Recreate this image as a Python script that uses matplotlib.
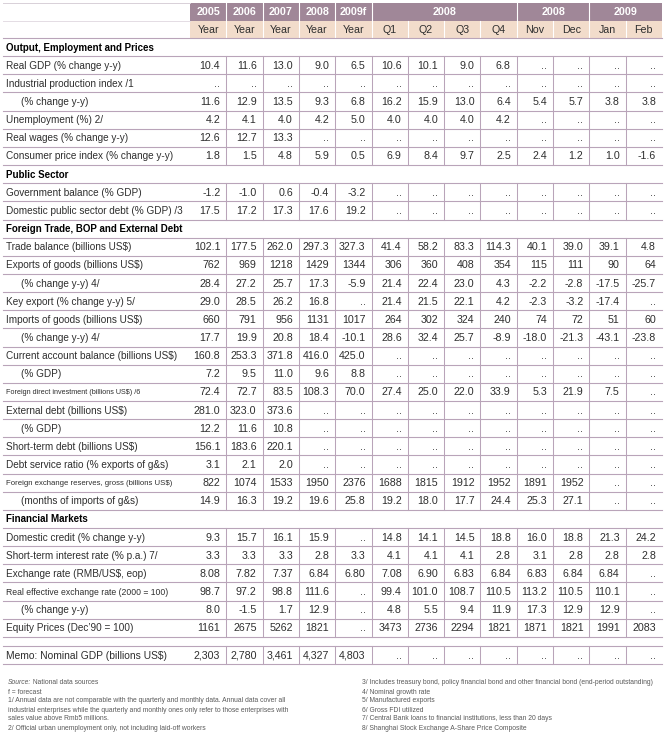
import matplotlib
matplotlib.use('Agg')
import matplotlib.pyplot as plt
from matplotlib.patches import Rectangle
from matplotlib import font_manager

NA = '..'

# column headers
col_years = ['2005', '2006', '2007', '2008', '2009f']
col_sub = ['Year', 'Year', 'Year', 'Year', 'Year', 'Q1', 'Q2', 'Q3', 'Q4', 'Nov', 'Dec', 'Jan', 'Feb']
group_heads = [('2008', 5, 9), ('2008', 9, 11), ('2009', 11, 13)]

output_rows = [
    ('Real GDP (% change y-y)', ['10.4', '11.6', '13.0', '9.0', '6.5', '10.6', '10.1', '9.0', '6.8', NA, NA, NA, NA]),
    ('Industrial production index /1', [NA] * 13),
    ('(% change y-y)', ['11.6', '12.9', '13.5', '9.3', '6.8', '16.2', '15.9', '13.0', '6.4', '5.4', '5.7', '3.8', '3.8']),
    ('Unemployment (%) 2/', ['4.2', '4.1', '4.0', '4.2', '5.0', '4.0', '4.0', '4.0', '4.2', NA, NA, NA, NA]),
    ('Real wages (% change y-y)', ['12.6', '12.7', '13.3', NA, NA, NA, NA, NA, NA, NA, NA, NA, NA]),
    ('Consumer price index (% change y-y)', ['1.8', '1.5', '4.8', '5.9', '0.5', '6.9', '8.4', '9.7', '2.5', '2.4', '1.2', '1.0', '-1.6']),
]
public_rows = [
    ('Government balance (% GDP)', ['-1.2', '-1.0', '0.6', '-0.4', '-3.2'] + [NA] * 8),
    ('Domestic public sector debt (% GDP) /3', ['17.5', '17.2', '17.3', '17.6', '19.2'] + [NA] * 8),
]
trade_rows = [
    ('Trade balance (billions US$)', ['102.1', '177.5', '262.0', '297.3', '327.3', '41.4', '58.2', '83.3', '114.3', '40.1', '39.0', '39.1', '4.8']),
    ('Exports of goods (billions US$)', ['762', '969', '1218', '1429', '1344', '306', '360', '408', '354', '115', '111', '90', '64']),
    ('(% change y-y) 4/', ['28.4', '27.2', '25.7', '17.3', '-5.9', '21.4', '22.4', '23.0', '4.3', '-2.2', '-2.8', '-17.5', '-25.7']),
    ('Key export (% change y-y) 5/', ['29.0', '28.5', '26.2', '16.8', NA, '21.4', '21.5', '22.1', '4.2', '-2.3', '-3.2', '-17.4', NA]),
    ('Imports of goods (billions US$)', ['660', '791', '956', '1131', '1017', '264', '302', '324', '240', '74', '72', '51', '60']),
    ('(% change y-y) 4/', ['17.7', '19.9', '20.8', '18.4', '-10.1', '28.6', '32.4', '25.7', '-8.9', '-18.0', '-21.3', '-43.1', '-23.8']),
    ('Current account balance (billions US$)', ['160.8', '253.3', '371.8', '416.0', '425.0'] + [NA] * 8),
    ('(% GDP)', ['7.2', '9.5', '11.0', '9.6', '8.8'] + [NA] * 8),
    ('Foreign direct investment (billions US$) /6', ['72.4', '72.7', '83.5', '108.3', '70.0', '27.4', '25.0', '22.0', '33.9', '5.3', '21.9', '7.5', NA]),
    ('External debt (billions US$)', ['281.0', '323.0', '373.6'] + [NA] * 10),
    ('(% GDP)', ['12.2', '11.6', '10.8'] + [NA] * 10),
    ('Short-term debt (billions US$)', ['156.1', '183.6', '220.1'] + [NA] * 10),
    ('Debt service ratio (% exports of g&s)', ['3.1', '2.1', '2.0'] + [NA] * 10),
    ('Foreign exchange reserves, gross (billions US$)', ['822', '1074', '1533', '1950', '2376', '1688', '1815', '1912', '1952', '1891', '1952', NA, NA]),
    ('(months of imports of g&s)', ['14.9', '16.3', '19.2', '19.6', '25.8', '19.2', '18.0', '17.7', '24.4', '25.3', '27.1', NA, NA]),
]
financial_rows = [
    ('Domestic credit (% change y-y)', ['9.3', '15.7', '16.1', '15.9', NA, '14.8', '14.1', '14.5', '18.8', '16.0', '18.8', '21.3', '24.2']),
    ('Short-term interest rate (% p.a.) 7/', ['3.3', '3.3', '3.3', '2.8', '3.3', '4.1', '4.1', '4.1', '2.8', '3.1', '2.8', '2.8', '2.8']),
    ('Exchange rate (RMB/US$, eop)', ['8.08', '7.82', '7.37', '6.84', '6.80', '7.08', '6.90', '6.83', '6.84', '6.83', '6.84', '6.84', NA]),
    ('Real effective exchange rate (2000 = 100)', ['98.7', '97.2', '98.8', '111.6', NA, '99.4', '101.0', '108.7', '110.5', '113.2', '110.5', '110.1', NA]),
    ('(% change y-y)', ['8.0', '-1.5', '1.7', '12.9', NA, '4.8', '5.5', '9.4', '11.9', '17.3', '12.9', '12.9', NA]),
    ('Equity Prices (Dec\u201990 = 100)', ['1161', '2675', '5262', '1821', NA, '3473', '2736', '2294', '1821', '1871', '1821', '1991', '2083']),
]
memo_row = ('Memo: Nominal GDP (billions US$)', ['2,303', '2,780', '3,461', '4,327', '4,803'] + [NA] * 8)

sections = [
    ('Output, Employment and Prices', output_rows),
    ('Public Sector', public_rows),
    ('Foreign Trade, BOP and External Debt', trade_rows),
    ('Financial Markets', financial_rows),
]

notes_left = [
    'Source: National data sources',
    'f = forecast',
    '1/ Annual data are not comparable with the quarterly and monthly data. Annual data cover all',
    'industrial enterprises while the quarterly and monthly ones only refer to those enterprises with',
    'sales value above Rmb5 millions.',
    '2/ Official urban unemployment only, not including laid-off workers',
]
notes_right = [
    '3/ Includes treasury bond, policy financial bond and other financial bond (end-period outstanding)',
    '4/ Nominal growth rate',
    '5/ Manufactured exports',
    '6/ Gross FDI utilized',
    '7/ Central Bank loans to financial institutions, less than 20 days',
    '8/ Shanghai Stock Exchange A-Share Price Composite',
]

# pick a narrow face if there is one, otherwise shrink the regular one
names = {f.name for f in font_manager.fontManager.ttflist}
if 'Liberation Sans Narrow' in names:
    plt.rcParams['font.family'] = ['Liberation Sans Narrow', 'DejaVu Sans']
    k = 1.12
else:
    plt.rcParams['font.family'] = ['Liberation Sans', 'DejaVu Sans']
    k = 1.0

fs_num = 7.7 * k
fs_lab = 7.2 * k
fs_sec = 7.0 * k
fs_note = 4.85 * k

# smaller fonts for a few long labels
label_size = {
    'Foreign direct investment (billions US$) /6': 5.2 * k,
    'Foreign exchange reserves, gross (billions US$)': 5.6 * k,
    'Real effective exchange rate (2000 = 100)': 6.2 * k,
    'Memo: Nominal GDP (billions US$)': 7.4 * k,
}

W, H = 671, 745
fig = plt.figure(figsize=(W / 100, H / 100), dpi=100)
ax = fig.add_axes([0, 0, 1, 1])
ax.set_xlim(0, W)
ax.set_ylim(H, 0)
ax.axis('off')

x_left = 3
x_data = 190.0
x_right = 662.0
ncol = len(col_sub)
cw = (x_right - x_data) / ncol
col_edges = [x_data + i * cw for i in range(ncol + 1)]

y_top = 3
hh = 17.5
rh = 18.15
line_c = '#b9a4b9'
txt_c = '#2e2e2e'
head_c = '#a08798'
sub_c = '#f2dccb'
note_c = '#5a5a5a'

# header
ax.add_patch(Rectangle((x_data, y_top), x_right - x_data, hh, color=head_c, lw=0))
ax.add_patch(Rectangle((x_data, y_top + hh), x_right - x_data, hh, color=sub_c, lw=0))
for i, yr in enumerate(col_years):
    ax.text(col_edges[i] + cw / 2, y_top + hh / 2 + 0.5, yr, ha='center', va='center',
            color='white', fontsize=fs_num, fontweight='bold')
for name, a, b in group_heads:
    ax.text((col_edges[a] + col_edges[b]) / 2, y_top + hh / 2 + 0.5, name, ha='center',
            va='center', color='white', fontsize=fs_num, fontweight='bold')
for i, s in enumerate(col_sub):
    ax.text(col_edges[i] + cw / 2, y_top + hh * 1.5 + 0.5, s, ha='center', va='center',
            color=txt_c, fontsize=fs_num)
for i in range(1, ncol):
    full = i <= 5 or i in (9, 11)
    y0 = y_top if full else y_top + hh
    ax.plot([col_edges[i]] * 2, [y0, y_top + 2 * hh], color='white', lw=0.8)
ax.plot([x_left, x_data], [y_top, y_top], color='#d8d0d8', lw=0.7)
ax.plot([x_left, x_data], [y_top + hh, y_top + hh], color='#e4dce4', lw=0.7)


def draw_row(y0, label, vals):
    yc = y0 + rh / 2 + 0.5
    if vals is None:
        ax.text(x_left + 3, yc, label, ha='left', va='center', fontsize=fs_sec,
                fontweight='bold', color='black', parse_math=False)
        return
    indent = 18 if label.startswith('(') else 3
    size = label_size.get(label, fs_lab)
    ax.text(x_left + indent, yc, label, ha='left', va='center', fontsize=size,
            color=txt_c, parse_math=False)
    for i, v in enumerate(vals):
        ax.text(col_edges[i + 1] - 6, yc, v, ha='right', va='center', fontsize=fs_num,
                color=txt_c, parse_math=False)
    for i in range(1, ncol):
        ax.plot([col_edges[i]] * 2, [y0, y0 + rh], color=line_c, lw=0.75)


y = y_top + 2 * hh
ax.plot([x_left, x_right], [y, y], color=line_c, lw=0.8)
for title, rows in sections:
    draw_row(y, title, None)
    y += rh
    ax.plot([x_left, x_right], [y, y], color=line_c, lw=0.8)
    for label, vals in rows:
        draw_row(y, label, vals)
        y += rh
        ax.plot([x_left, x_right], [y, y], color=line_c, lw=0.8)

# memo row
y += 9
ax.plot([x_left, x_right], [y, y], color=line_c, lw=0.8)
draw_row(y, memo_row[0], memo_row[1])
ax.plot([x_left, x_right], [y + rh, y + rh], color=line_c, lw=0.8)

# footnotes
ny = 683
for i, line in enumerate(notes_left):
    if line.startswith('Source:'):
        t = ax.text(8, ny + i * 9, 'Source:', ha='left', va='center', fontsize=fs_note,
                    color=note_c, style='italic')
        ax.annotate(line[len('Source:'):], xy=(1, 0.5), xycoords=t, ha='left',
                    va='center', fontsize=fs_note, color=note_c)
    else:
        ax.text(8, ny + i * 9, line, ha='left', va='center', fontsize=fs_note,
                color=note_c, parse_math=False)
for i, line in enumerate(notes_right):
    ax.text(362, ny + i * 9, line, ha='left', va='center', fontsize=fs_note,
            color=note_c, parse_math=False)

fig.savefig('out.png', dpi=100)
